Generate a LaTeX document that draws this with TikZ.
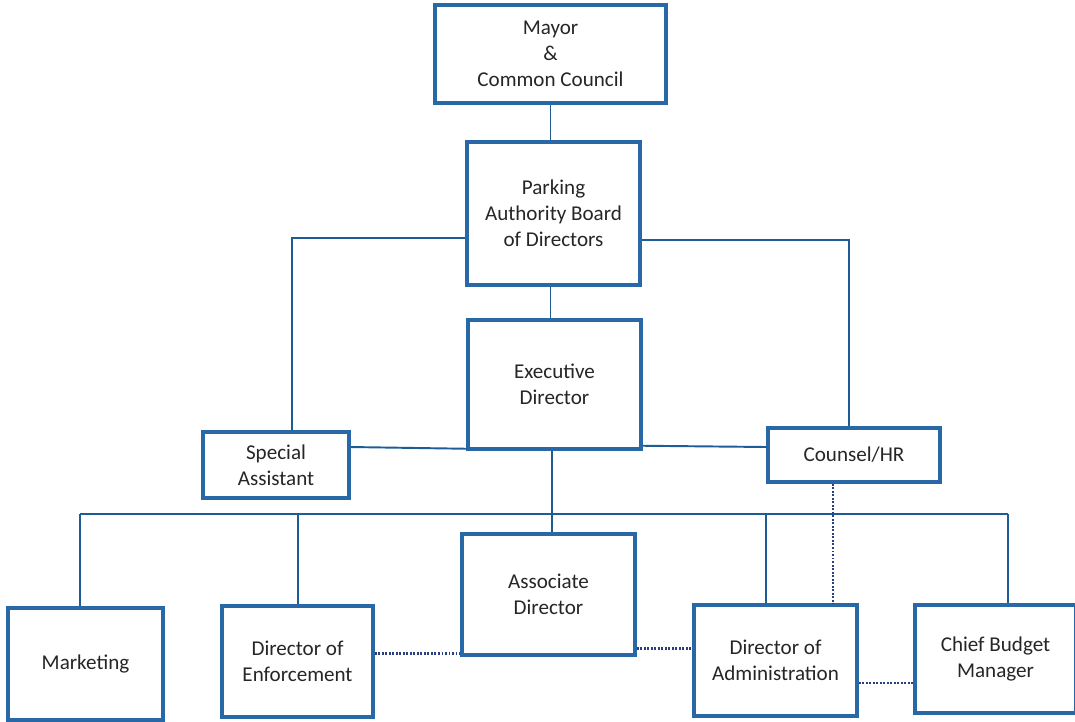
\documentclass[tikz,border=0pt]{standalone}
\usepackage{fontspec}
\setmainfont{Carlito}
\usepackage{tikz}
\usetikzlibrary{positioning,calc}
\definecolor{boxblue}{RGB}{40,104,166}
\definecolor{lineblue}{RGB}{30,92,150}
\definecolor{dotblue}{RGB}{40,64,130}
\tikzset{
  orgbox/.style={draw=boxblue, line width=2pt, fill=white, align=center,
    inner sep=0pt, font=\fontsize{12}{14.8}\selectfont, text=black!85},
  link/.style={draw=lineblue, line width=1.1pt},
  dotlink/.style={draw=dotblue, line width=1.5pt, dash pattern=on 1.1pt off 0.9pt},
}

\begin{document}
\begin{tikzpicture}[x=0.02cm,y=-0.02cm]
\useasboundingbox (0,0) rectangle (1075,721);

\node[orgbox,minimum width=4.62cm,minimum height=1.96cm] (mayor) at (550.5,54) {Mayor\\\&\\Common Council};
\node[orgbox,minimum width=3.46cm,minimum height=2.86cm] (board) at (553.5,213.5) {Parking\\Authority Board\\of Directors};
\node[orgbox,minimum width=3.46cm,minimum height=2.58cm] (exec) at (554.5,384.5) {Executive\\Director};
\node[orgbox,minimum width=2.92cm,minimum height=1.32cm] (special) at (276,465) {Special\\Assistant};
\node[orgbox,minimum width=3.44cm,minimum height=1.08cm] (counsel) at (854,455) {Counsel/HR};
\node[orgbox,minimum width=3.46cm,minimum height=2.42cm] (assoc) at (548.5,594.5) {Associate\\Director};
\node[orgbox,minimum width=3.10cm,minimum height=2.24cm] (market) at (85.5,664) {Marketing};
\node[orgbox,minimum width=3.02cm,minimum height=2.22cm] (enforce) at (297.5,661.5) {Director of\\Enforcement};
\node[orgbox,minimum width=3.26cm,minimum height=2.22cm] (admin) at (775.5,660.5) {Director of\\Administration};
\node[orgbox,minimum width=3.22cm,minimum height=2.16cm] (budget) at (995.5,659) {Chief Budget\\Manager};

% upper chain
\draw[link] (mayor.south) -- (mayor.south |- board.north);
\draw[link] ([xshift=-0.06cm]board.south) -- ([xshift=-0.06cm]board.south |- exec.north);
\draw[link] ([yshift=-0.49cm]board.west) -| ([xshift=0.32cm]special.north);
\draw[link] ([yshift=-0.53cm]board.east) -| ([xshift=-0.1cm]counsel.north);
\draw[link] ([yshift=0.36cm]special.east) -- ([yshift=0.04cm]exec.south west);
\draw[link] ([yshift=0.1cm]exec.south east) -- ([yshift=0.16cm]counsel.west);
\coordinate (ex) at ([xshift=-0.05cm]exec.south);
\draw[link] (ex) -- (ex |- assoc.north);

% staff bus
\coordinate (busM) at (80,514);
\coordinate (busE) at (298,514);
\coordinate (busA) at (766,514);
\coordinate (busB) at (1008,514);
\draw[link] (busM) -- (busB);
\draw[link] (busM) -- (busM |- market.north);
\draw[link] (busE) -- (busE |- enforce.north);
\draw[link] (busA) -- (busA |- admin.north);
\draw[link] (busB) -- (busB |- budget.north);

% dotted relations
\coordinate (hr) at ([xshift=-0.42cm]counsel.south);
\draw[dotlink] (hr) -- (hr |- admin.north);
\coordinate (enf) at ([yshift=0.16cm]enforce.east);
\draw[dotlink] (enf) -- (enf -| assoc.west);
\coordinate (ass) at ([yshift=0.16cm]assoc.south east);
\draw[dotlink] (ass) -- (ass -| admin.west);
\coordinate (adm) at ([yshift=-0.45cm]admin.east);
\draw[dotlink] (adm) -- (adm -| budget.west);
\end{tikzpicture}
\end{document}
